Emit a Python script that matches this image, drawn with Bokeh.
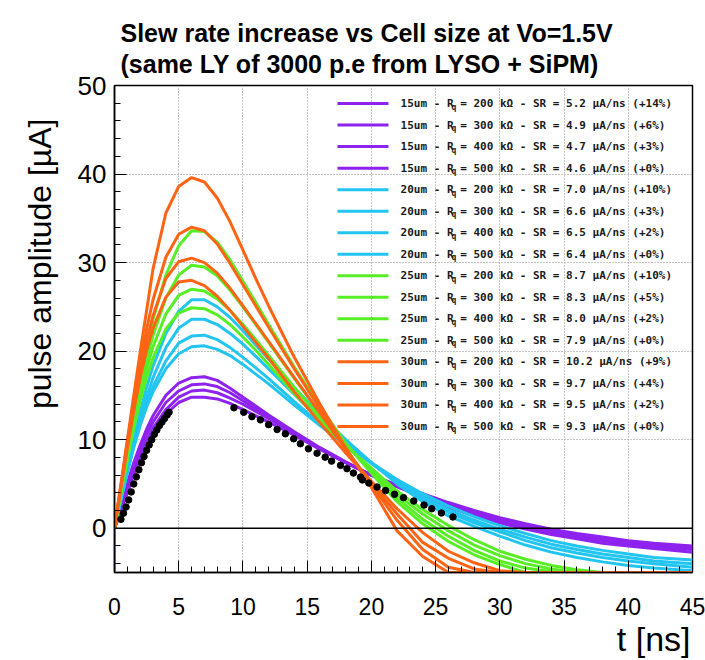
import numpy as np
from bokeh.plotting import figure
from bokeh.models import Range1d, Span, Title, FixedTicker
from bokeh.core.properties import value
from bokeh.embed import file_html
from bokeh.resources import INLINE

# ---- data -------------------------------------------------------------
# time grid [ns] shared by all simulated pulses (t=0 appears twice so the
# first pulse can start from its undershoot value)
t_ns = [0, 0, 0.5, 1, 1.5, 2, 2.5, 3, 4, 5, 6, 7, 8, 9, 10, 11, 12, 14, 16,
        18, 20, 22, 24, 26, 28, 30, 32, 34, 36, 38, 40, 42, 45]

# 15 um cells, Rq = 200/300/400/500 kOhm
cell15_r200 = [0, 0, 2.6, 5.1, 7.4, 9.4, 11.2, 12.7, 15.0, 16.4, 17.0, 17.1, 16.7, 15.8, 14.8, 13.8, 12.8, 10.9, 9.1,
               7.5, 6.0, 4.7, 3.5, 2.4, 1.4, 0.6, -0.1, -0.7, -1.2, -1.7, -2.0, -2.3, -2.7]
cell15_r300 = [0, 0, 2.4, 4.8, 7.0, 8.9, 10.6, 12.0, 14.2, 15.5, 16.2, 16.3, 16.0, 15.3, 14.4, 13.5, 12.6, 10.8, 9.0,
               7.4, 6.0, 4.7, 3.6, 2.5, 1.6, 0.8, 0.1, -0.5, -1.0, -1.4, -1.8, -2.1, -2.4]
cell15_r400 = [0, 0, 2.2, 4.4, 6.5, 8.3, 9.9, 11.3, 13.4, 14.8, 15.5, 15.6, 15.3, 14.7, 14.0, 13.2, 12.4, 10.7, 9.0,
               7.4, 6.0, 4.8, 3.7, 2.7, 1.8, 1.0, 0.3, -0.3, -0.8, -1.2, -1.6, -1.9, -2.2]
cell15_r500 = [0, 0, 1.9, 4.0, 6.1, 7.9, 9.5, 10.9, 12.9, 14.2, 14.8, 14.8, 14.6, 14.1, 13.4, 12.7, 12.0, 10.5, 8.9,
               7.4, 6.0, 4.9, 3.9, 2.9, 2.0, 1.2, 0.5, -0.1, -0.6, -1.0, -1.4, -1.7, -2.0]

# 20 um cells
cell20_r200 = [0, 0, 3.5, 6.9, 10.2, 13.2, 15.9, 18.3, 22.0, 24.5, 25.8, 25.8, 25.0, 23.8, 22.3, 20.7, 19.1, 15.9, 12.8,
               10.0, 7.4, 5.0, 3.0, 1.4, 0.2, -0.9, -1.9, -2.7, -3.3, -3.8, -4.2, -4.5, -4.8]
cell20_r300 = [0, 0, 3.3, 6.5, 9.6, 12.4, 14.8, 17.0, 20.4, 22.6, 23.6, 23.6, 23.0, 22.0, 20.8, 19.4, 18.0, 15.1, 12.3,
               9.8, 7.4, 5.2, 3.3, 1.8, 0.6, -0.4, -1.4, -2.2, -2.8, -3.3, -3.7, -4.0, -4.4]
cell20_r400 = [0, 0, 3.2, 6.4, 9.3, 11.9, 14.1, 16.0, 18.9, 20.9, 21.7, 21.8, 21.3, 20.4, 19.3, 18.1, 16.9, 14.3, 11.8,
               9.5, 7.3, 5.3, 3.6, 2.1, 0.9, -0.1, -1.0, -1.8, -2.4, -2.9, -3.3, -3.7, -4.0]
cell20_r500 = [0, 0, 3.2, 6.3, 9.1, 11.6, 13.7, 15.4, 18.0, 19.7, 20.5, 20.6, 20.2, 19.5, 18.5, 17.4, 16.3, 13.9, 11.6,
               9.4, 7.4, 5.5, 3.9, 2.5, 1.3, 0.3, -0.6, -1.4, -2.0, -2.5, -2.9, -3.3, -3.6]

# 25 um cells
cell25_r200 = [0, 0, 4.3, 8.6, 12.8, 16.8, 20.4, 23.6, 28.6, 31.9, 33.6, 33.5, 32.3, 30.3, 27.9, 25.5, 23.0, 18.2, 13.7,
               9.6, 6.2, 3.0, 0.5, -1.5, -3.0, -4.1, -5.0, -5.8, -6.5, -7.0, -7.5, -8.0, -8.5]
cell25_r300 = [0, 0, 4.1, 8.2, 12.1, 15.7, 19.0, 21.8, 26.0, 28.6, 29.7, 29.5, 28.5, 26.9, 25.0, 23.0, 21.0, 16.9, 13.0,
               9.5, 6.4, 3.4, 1.0, -0.9, -2.5, -3.7, -4.5, -4.9, -5.5, -6.0, -6.5, -7.0, -7.5]
cell25_r400 = [0, 0, 4.0, 7.9, 11.6, 15.0, 18.0, 20.5, 24.2, 26.3, 27.0, 26.8, 25.9, 24.6, 23.0, 21.3, 19.5, 15.9, 12.5,
               9.4, 6.6, 3.8, 1.6, -0.3, -1.9, -3.1, -4.0, -4.6, -5.0, -5.4, -5.8, -6.2, -6.8]
cell25_r500 = [0, 0, 3.9, 7.8, 11.3, 14.4, 17.0, 19.2, 22.5, 24.3, 24.9, 24.8, 24.1, 23.0, 21.6, 20.1, 18.5, 15.2, 12.1,
               9.3, 6.8, 4.2, 2.1, 0.3, -1.3, -2.6, -3.5, -4.2, -4.7, -5.0, -5.3, -5.6, -6.0]

# 30 um cells
cell30_r200 = [-5.0, 0, 5.0, 10.0, 15.0, 19.9, 24.6, 29.3, 35.6, 38.6, 39.6, 39.1, 37.3, 34.6, 31.4, 28.2, 25.1, 19.3, 14.0,
               9.1, 4.6, -0.3, -3.2, -6.0, -7.5, -8.5, -9.2, -9.7, -10.0, -10.2, -10.4, -10.5, -10.6]
cell30_r300 = [0, 0, 4.8, 9.6, 14.2, 18.6, 22.5, 25.8, 30.6, 33.2, 34.0, 33.6, 32.1, 29.9, 27.5, 25.1, 22.7, 18.0, 13.5,
               9.0, 4.9, 0.9, -2.4, -4.4, -5.6, -6.5, -7.2, -7.8, -8.3, -8.7, -9.0, -9.3, -9.6]
cell30_r400 = [0, 0, 4.7, 9.3, 13.7, 17.7, 21.2, 24.0, 28.2, 30.1, 30.5, 30.0, 28.8, 27.1, 25.1, 23.1, 21.1, 17.0, 13.0,
               8.9, 5.1, 1.6, -1.6, -3.4, -4.6, -5.8, -6.6, -7.2, -7.7, -8.1, -8.5, -8.8, -9.1]
cell30_r500 = [0, 0, 4.6, 9.1, 13.3, 17.0, 20.1, 22.6, 26.1, 27.8, 28.0, 27.4, 26.2, 24.6, 22.8, 21.0, 19.2, 15.4, 11.9,
               8.5, 5.3, 2.2, -0.5, -2.6, -3.9, -4.8, -5.8, -6.5, -7.0, -7.5, -7.9, -8.2, -8.6]

# measured LYSO + SiPM pulse (black points)
meas_t = [0.5, 0.7, 0.9, 1.1, 1.3, 1.5, 1.7, 1.9, 2.1, 2.3, 2.5, 2.7, 2.9, 3.1, 3.3, 3.5, 3.7, 3.9, 4.1, 4.25,
          9.3, 10.06, 10.7, 11.36, 12.0, 12.66, 13.3, 13.95, 14.47, 15.1, 15.77, 16.4, 16.9, 17.6, 18.1, 18.6,
          19.15, 19.3, 19.8, 20.44, 21.1, 21.8, 22.5, 23.3, 24.1, 24.7, 25.45, 26.35]
meas_a = [1.0, 1.7, 2.4, 3.2, 4.1, 5.0, 5.8, 6.6, 7.4, 8.1, 8.8, 9.4, 10.0, 10.6, 11.1, 11.6, 12.0, 12.4, 12.8, 13.1,
          13.6, 13.1, 12.6, 12.24, 11.7, 11.15, 10.66, 10.1, 9.54, 8.97, 8.48, 8.03, 7.58, 7.1, 6.72, 6.23,
          5.78, 5.45, 5.1, 4.65, 4.25, 3.83, 3.45, 3.07, 2.62, 2.2, 1.72, 1.27]

cell_sizes = ["15um"] * 4 + ["20um"] * 4 + ["25um"] * 4 + ["30um"] * 4
rq_kohm = [200, 300, 400, 500] * 4
slew_rates = ["5.2", "4.9", "4.7", "4.6", "7.0", "6.6", "6.5", "6.4",
              "8.7", "8.3", "8.0", "7.9", "10.2", "9.7", "9.5", "9.3"]
sr_gain = ["+14%", "+6%", "+3%", "+0%", "+10%", "+3%", "+2%", "+0%",
           "+10%", "+5%", "+2%", "+0%", "+9%", "+4%", "+2%", "+0%"]

x_ticks = [0, 5, 10, 15, 20, 25, 30, 35, 40, 45]
y_ticks = [0, 10, 20, 30, 40, 50]

# ---- styling ----------------------------------------------------------
PURPLE, CYAN, GREEN, ORANGE = "#8e22ee", "#22c4f0", "#58ee26", "#ff6414"
family_colors = [PURPLE] * 4 + [CYAN] * 4 + [GREEN] * 4 + [ORANGE] * 4
pulses = [cell15_r200, cell15_r300, cell15_r400, cell15_r500,
          cell20_r200, cell20_r300, cell20_r400, cell20_r500,
          cell25_r200, cell25_r300, cell25_r400, cell25_r500,
          cell30_r200, cell30_r300, cell30_r400, cell30_r500]

X_MIN, X_MAX, Y_MIN, Y_MAX = 0, 45, -5, 50
SANS = "Liberation Sans"
MONO = "DejaVu Sans Mono"

p = figure(width=705, height=660, output_backend="svg", toolbar_location=None, title=None,
           x_range=Range1d(X_MIN, X_MAX), y_range=Range1d(Y_MIN, Y_MAX),
           min_border_left=114, min_border_right=13, min_border_top=85, min_border_bottom=88)
p.background_fill_color = "white"
p.border_fill_color = "white"
p.outline_line_color = "black"
p.outline_line_width = 1.5

# axes: ticks point inward like a ROOT frame
p.xaxis.ticker = FixedTicker(ticks=x_ticks, minor_ticks=list(range(0, 46)))
p.yaxis.ticker = FixedTicker(ticks=y_ticks, minor_ticks=list(range(-4, 51, 2)))
for ax in (p.xaxis[0], p.yaxis[0]):
    ax.major_tick_in = 12
    ax.major_tick_out = 0
    ax.minor_tick_in = 6
    ax.minor_tick_out = 0
    ax.axis_line_color = "black"
    ax.axis_line_width = 1.5
    ax.major_tick_line_color = "black"
    ax.minor_tick_line_color = "black"
    ax.major_label_text_font = SANS
    ax.major_label_text_color = "black"
p.xaxis.major_label_text_font_size = "23px"
p.xaxis.major_label_standoff = 25
p.yaxis.major_label_text_font_size = "26px"
p.yaxis.major_label_standoff = 8

p.xgrid.ticker = FixedTicker(ticks=[5, 10, 15, 20, 25, 30, 35, 40])
p.ygrid.ticker = FixedTicker(ticks=[10, 20, 30, 40])
for g in (p.xgrid[0], p.ygrid[0]):
    g.grid_line_color = "#8a8a8a"
    g.grid_line_dash = "1 2"
    g.grid_line_width = 1

p.add_layout(Span(location=0, dimension="width", line_color="black", line_width=1.5))

# simulated pulses; points below the frame are drawn on its lower edge
t_arr = np.array(t_ns, dtype=float)
for amp, col in zip(pulses, family_colors):
    y = np.clip(np.array(amp, dtype=float), Y_MIN, None)
    p.line(t_arr, y, line_color=col, line_width=3)

p.scatter(meas_t, meas_a, size=6.5, color="black")

# legend block drawn inside the frame
n = len(cell_sizes)
row_y = [47.96 - 2.431 * i for i in range(n)]
p.segment(x0=[17.36] * n, y0=row_y, x1=[21.33] * n, y1=row_y, line_color=family_colors, line_width=3)
labels = [f"{c} - R  = {r} k\u03a9 - SR = {s} \u00b5A/ns ({g})"
          for c, r, s, g in zip(cell_sizes, rq_kohm, slew_rates, sr_gain)]
p.text(x=[22.27] * n, y=row_y, text=labels, text_font=value(MONO), text_font_style="bold",
       text_font_size="11px", text_baseline="middle", text_color="#1a1a1a")
p.text(x=[22.27] * n, y=row_y, text=["q"] * n, x_offset=51, y_offset=3.5, text_font=value(MONO),
       text_font_style="bold", text_font_size="8px", text_baseline="middle", text_color="#1a1a1a")

# two-line title, axis titles at the axis ends
p.add_layout(Title(text="Slew rate increase vs Cell size at Vo=1.5V\n(same LY of 3000 p.e from LYSO + SiPM)",
                   align="left", vertical_align="top", offset=6, standoff=12, text_line_height=1.11,
                   text_font=SANS, text_font_style="bold", text_font_size="25px", text_color="black"), "above")
p.add_layout(Title(text="pulse amplitude [\u00b5A]", align="right", offset=33, standoff=34,
                   text_font=SANS, text_font_style="normal", text_font_size="32px", text_color="black"), "left")
p.add_layout(Title(text="t [ns]", align="right", offset=2, standoff=1, text_line_height=0.8,
                   text_font=SANS, text_font_style="normal", text_font_size="34px", text_color="black"), "below")

open("out.html", "w").write(file_html(p, INLINE))
